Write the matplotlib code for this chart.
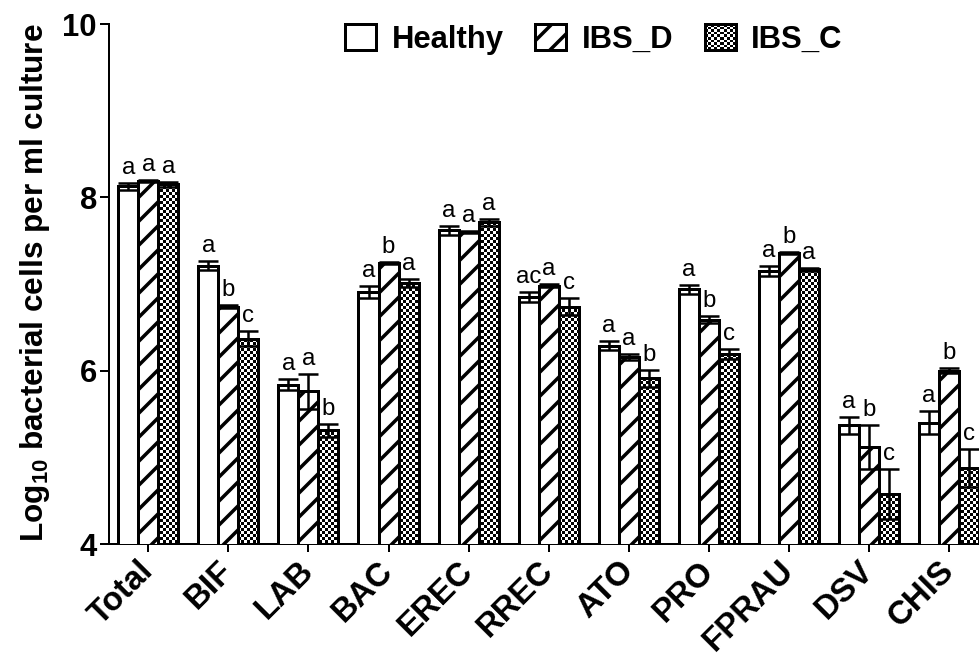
import numpy as np
import matplotlib
matplotlib.use("Agg")
import matplotlib.pyplot as plt
from matplotlib.patches import Rectangle, Patch
from matplotlib.path import Path
from matplotlib.legend_handler import HandlerBase
from matplotlib.image import BboxImage
from matplotlib.transforms import Bbox, TransformedBbox

categories = ["Total", "BIF", "LAB", "BAC", "EREC", "RREC", "ATO", "PRO", "FPRAU", "DSV", "CHIS"]
series_names = ["Healthy", "IBS_D", "IBS_C"]
healthy = [8.13, 7.21, 5.84, 6.91, 7.62, 6.85, 6.29, 6.94, 7.15, 5.37, 5.40]
ibs_d = [8.19, 6.74, 5.76, 7.24, 7.60, 6.98, 6.16, 6.59, 7.36, 5.12, 6.00]
ibs_c = [8.15, 6.37, 5.31, 7.01, 7.71, 6.74, 5.91, 6.19, 7.17, 4.58, 4.88]
healthy_err = [0.04, 0.05, 0.06, 0.07, 0.05, 0.06, 0.05, 0.05, 0.06, 0.10, 0.13]
ibs_d_err = [0.01, 0.02, 0.20, 0.01, 0.01, 0.015, 0.035, 0.04, 0.01, 0.25, 0.03]
ibs_c_err = [0.03, 0.09, 0.08, 0.05, 0.04, 0.10, 0.10, 0.055, 0.015, 0.29, 0.22]
healthy_letters = ["a", "a", "a", "a", "a", "ac", "a", "a", "a", "a", "a"]
ibs_d_letters = ["a", "b", "a", "b", "a", "a", "a", "b", "b", "b", "b"]
ibs_c_letters = ["a", "c", "b", "a", "a", "c", "b", "c", "a", "c", "c"]
yticks = [4, 6, 8, 10]

DPI = 72
W, H = 979, 657
plt.rcParams["font.family"] = ["Liberation Sans", "DejaVu Sans"]
plt.rcParams["mathtext.fontset"] = "custom"
plt.rcParams["mathtext.bf"] = "Liberation Sans:bold"
plt.rcParams["mathtext.rm"] = "Liberation Sans:bold"
plt.rcParams["mathtext.default"] = "bf"
plt.rcParams["hatch.linewidth"] = 3.5
plt.rcParams["hatch.color"] = "black"

fig = plt.figure(figsize=(W / DPI, H / DPI), dpi=DPI)
ax_l, ax_r, ax_t, ax_b = 109, 979, 24, 544
ax = fig.add_axes([ax_l / W, (H - ax_b) / H, (ax_r - ax_l) / W, (ax_b - ax_t) / H])

x = np.arange(len(categories))
bw = 0.25
ax.set_xlim(-0.49, 10.372)
ax.set_ylim(4, 10)

LW = 3
values = [healthy, ibs_d, ibs_c]
errs = [healthy_err, ibs_d_err, ibs_c_err]
letters = [healthy_letters, ibs_d_letters, ibs_c_letters]
offsets = [-bw, 0, bw]

bars_h = ax.bar(x + offsets[0], healthy, bw, bottom=0, color="white", edgecolor="black",
                linewidth=LW, zorder=3)
bars_d = ax.bar(x + offsets[1], ibs_d, bw, bottom=0, color="white", edgecolor="black",
                linewidth=LW, hatch="/", zorder=3)
bars_c = ax.bar(x + offsets[2], ibs_c, bw, bottom=0, facecolor="none", edgecolor="black",
                linewidth=LW, zorder=3)

# checkerboard fill for IBS_C, clipped to its bars
cell = 3
ny = (ax_b - ax_t) // cell + 1
nx = (ax_r - ax_l) // cell + 1
checker = (np.add.outer(np.arange(ny), np.arange(nx)) % 2).astype(float)
xl, xr = ax.get_xlim()
yb, yt = ax.get_ylim()
im = ax.imshow(checker, cmap="gray", vmin=0, vmax=1, interpolation="nearest",
               extent=(xl, xl + nx * cell * (xr - xl) / (ax_r - ax_l),
                       yt - ny * cell * (yt - yb) / (ax_b - ax_t), yt),
               origin="upper", aspect="auto", zorder=2)
paths = [p.get_path().transformed(p.get_patch_transform()) for p in bars_c]
im.set_clip_path(Path.make_compound_path(*paths), ax.transData)
ax.set_xlim(xl, xr)
ax.set_ylim(yb, yt)

for off, v, e, lab in zip(offsets, values, errs, letters):
    ax.errorbar(x + off, v, yerr=e, fmt="none", ecolor="black", elinewidth=2.5,
                capsize=10, capthick=2.5, zorder=5)
    for xi, vi, ei, li in zip(x + off, v, e, lab):
        ax.annotate(li, (xi, vi + ei), xytext=(0, 9), textcoords="offset points",
                    ha="center", va="baseline", fontsize=24, zorder=6)

ax.spines["top"].set_visible(False)
ax.spines["right"].set_visible(False)
ax.spines["left"].set_linewidth(2)
ax.spines["bottom"].set_linewidth(2)
ax.set_yticks(yticks)
ax.set_yticklabels([str(t) for t in yticks], fontsize=31, fontweight="bold")
ax.set_xticks(x)
ax.set_xticklabels(categories, fontsize=33, fontweight="bold", rotation=45,
                   ha="right", va="center", rotation_mode="anchor")
ax.tick_params(axis="y", length=9, width=2, pad=3)
ax.tick_params(axis="x", length=8, width=2, pad=14)
ax.set_ylabel(r"Log$_{10}$ bacterial cells per ml culture", fontsize=31.5, fontweight="bold")
ax.yaxis.set_label_coords(-0.066, 0.503)


class CheckerHandler(HandlerBase):
    def create_artists(self, legend, orig_handle, xdescent, ydescent, width, height,
                       fontsize, trans):
        bb = Bbox.from_bounds(-xdescent, -ydescent, width, height)
        img = BboxImage(TransformedBbox(bb, trans), cmap="gray", norm=None,
                        interpolation="nearest")
        n = int(round(width / cell))
        img.set_data((np.add.outer(np.arange(n), np.arange(n)) % 2).astype(float))
        img.set_clim(0, 1)
        rect = Rectangle((-xdescent, -ydescent), width, height, facecolor="none",
                         edgecolor="black", linewidth=LW, transform=trans)
        return [img, rect]


h_handle = Patch(facecolor="white", edgecolor="black", linewidth=LW)
d_handle = Patch(facecolor="white", edgecolor="black", linewidth=LW, hatch="/")
c_handle = Patch(facecolor="none", edgecolor="black", linewidth=LW)
leg = fig.legend([h_handle, d_handle, c_handle], series_names, loc="upper left",
                 bbox_to_anchor=(345 / W, 1 - 24 / H), ncol=3, frameon=False,
                 prop={"weight": "bold", "size": 31}, handlelength=1.0,
                 handleheight=0.9, handletextpad=0.5, columnspacing=1.02,
                 borderpad=0, borderaxespad=0,
                 handler_map={c_handle: CheckerHandler()})

fig.savefig("out.png", dpi=DPI)
